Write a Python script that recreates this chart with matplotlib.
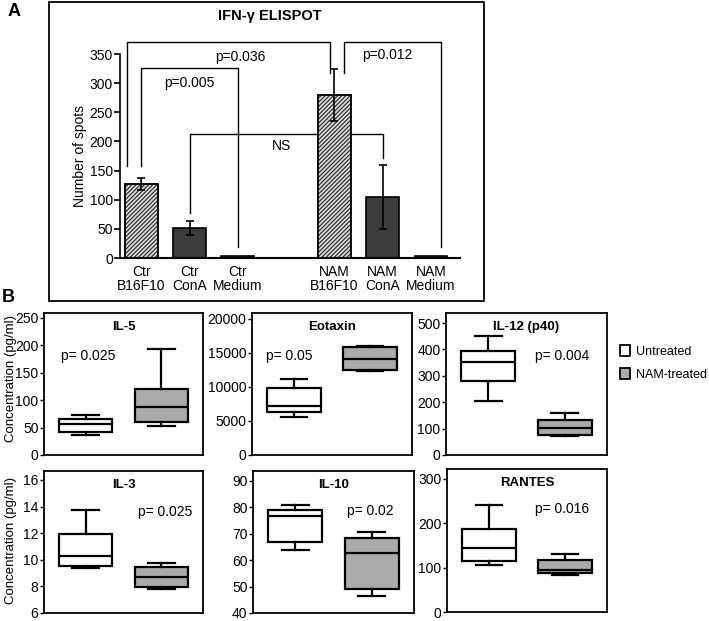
import numpy as np
import matplotlib as mpl
mpl.use('Agg')
import matplotlib.pyplot as plt
from matplotlib.patches import Rectangle, Patch

plt.rcParams['font.family'] = ['Liberation Sans', 'DejaVu Sans']
plt.rcParams['hatch.linewidth'] = 0.9

# ---- panel A data ----
a_labels = ['Ctr\nB16F10', 'Ctr\nConA', 'Ctr\nMedium', 'NAM\nB16F10', 'NAM\nConA', 'NAM\nMedium']
a_pos = [0, 1, 2, 4, 5, 6]
a_vals = [127, 52, 4, 280, 104, 4]
a_err = [10, 12, 0, 45, 55, 0]
a_hatched = [True, False, False, True, False, False]

# brackets: (x_left, y_left_bottom, x_right, y_right_bottom, y_top, label, label_x, label_y)
a_brackets = [
    (-0.3, 157, 3.9, 318, 371, 'p=0.036', 2.05, 345),
    (0.0, 157, 2.0, 19, 326, 'p=0.005', 1.0, 301),
    (4.2, 317, 6.2, 19, 371, 'p=0.012', 5.1, 349),
    (1.0, 77, 5.0, 172, 213, 'NS', 2.9, 193),
]

# ---- panel B data (whislo, q1, med, q3, whishi) ----
b_names = ['IL-5', 'Eotaxin', 'IL-12 (p40)', 'IL-3', 'IL-10', 'RANTES']
b_untreated = [
    (36.5, 42.6, 57, 66, 73.5),
    (5540, 6260, 7200, 9900, 11200),
    (206, 282, 354, 395, 451),
    (9.41, 9.56, 10.3, 11.92, 13.76),
    (64, 66.7, 76.6, 78.9, 81),
    (106, 115, 144, 186, 240),
]
b_treated = [
    (53, 61, 87.6, 120, 192.6),
    (12300, 12550, 14100, 15870, 16000),
    (71, 77, 103, 134, 159),
    (7.79, 7.99, 8.74, 9.48, 9.73),
    (46.3, 49.1, 62.8, 68.4, 70.5),
    (84, 88, 95.5, 118, 131),
]
b_pvals = ['p= 0.025', 'p= 0.05', 'p= 0.004', 'p= 0.025', 'p= 0.02', 'p= 0.016']
b_pxy = [(0.28, 0.70), (0.23, 0.70), (0.72, 0.70), (0.76, 0.71), (0.73, 0.72), (0.72, 0.72)]
b_ylim = [(0, 259), (0, 20870), (0, 538), (6, 16.67), (40, 93.7), (0, 322)]
b_yticks = [np.arange(0, 251, 50), np.arange(0, 20001, 5000), np.arange(0, 501, 100),
            np.arange(6, 17, 2), np.arange(40, 91, 10), np.arange(0, 301, 100)]
# axes boxes in pixels: left, top, right, bottom
b_rects = [(44, 313, 203, 455), (252, 313, 412, 455), (446, 313, 607, 455),
           (44, 471, 203, 613), (253, 471, 414, 613), (447, 469, 607, 612)]

W, H = 709, 621
fig = plt.figure(figsize=(W / 100, H / 100), dpi=100)


def px_axes(l, t, r, b):
    return fig.add_axes([l / W, 1 - b / H, (r - l) / W, (b - t) / H])


# ---- panel A ----
fig.patches.append(Rectangle((49 / W, 1 - 301 / H), (484 - 49) / W, (301 - 2) / H,
                             transform=fig.transFigure, fill=False, lw=1.3, ec='black'))
axA = px_axes(120, 54, 460, 258)
for x, v, e, h in zip(a_pos, a_vals, a_err, a_hatched):
    if h:
        axA.bar(x, v, width=0.68, color='#dddddd', edgecolor='#333333', hatch='////////', lw=1.2, zorder=2)
        axA.bar(x, v, width=0.68, fill=False, edgecolor='black', lw=1.2, zorder=3)
    else:
        axA.bar(x, v, width=0.68, color='#3c3c3c', edgecolor='black', lw=1.2, zorder=2)
    if e > 0:
        axA.errorbar(x, v, yerr=e, color='black', capsize=3, lw=1.2, capthick=1.2, zorder=4)

for xl, yl, xr, yr, yt, lab, lx, ly in a_brackets:
    axA.plot([xl, xl, xr, xr], [yl, yt, yt, yr], color='black', lw=1.0, clip_on=False, zorder=1)
    axA.text(lx, ly, lab, ha='center', va='center', fontsize=10)

axA.set_xlim(-0.44, 6.6)
axA.set_ylim(0, 350)
axA.set_yticks(np.arange(0, 351, 50))
axA.set_xticks(a_pos)
axA.set_xticklabels(a_labels, fontsize=10, linespacing=1.0)
axA.tick_params(axis='x', length=0, pad=5)
axA.tick_params(axis='y', length=4, width=1.2, labelsize=10, pad=1)
axA.spines['top'].set_visible(False)
axA.spines['right'].set_visible(False)
axA.spines['left'].set_linewidth(1.2)
axA.spines['bottom'].set_linewidth(1.5)
axA.set_ylabel('Number of spots', fontsize=10, labelpad=2)
fig.text(270 / W, 1 - 16 / H, 'IFN-γ ELISPOT', ha='center', va='center',
         fontsize=10.5, fontweight='bold')

# ---- panel B ----
keys = ['whislo', 'q1', 'med', 'q3', 'whishi']
for i in range(6):
    ax = px_axes(*b_rects[i])
    stats = [dict(zip(keys, b_untreated[i])), dict(zip(keys, b_treated[i]))]
    for s in stats:
        s['fliers'] = []
    bp = ax.bxp(stats, positions=[1, 2], widths=0.7, patch_artist=True, showfliers=False,
                boxprops=dict(lw=1.6, edgecolor='black'),
                medianprops=dict(color='black', lw=1.6),
                whiskerprops=dict(lw=1.6, color='black'),
                capprops=dict(lw=1.6, color='black'), capwidths=0.35)
    bp['boxes'][0].set_facecolor('white')
    bp['boxes'][1].set_facecolor('#aaaaaa')
    ax.set_xlim(0.45, 2.55)
    ax.set_ylim(*b_ylim[i])
    ax.set_yticks(b_yticks[i])
    ax.set_xticks([])
    ax.tick_params(axis='y', length=3, width=1.0, labelsize=10, pad=1)
    for sp in ax.spines.values():
        sp.set_linewidth(1.3)
    ax.text(0.5, 0.9, b_names[i], transform=ax.transAxes, ha='center', va='center',
            fontsize=9.5, fontweight='bold')
    ax.text(b_pxy[i][0], b_pxy[i][1], b_pvals[i], transform=ax.transAxes,
            ha='center', va='center', fontsize=10)

for yc in [378, 540]:
    fig.text(11 / W, 1 - yc / H, 'Concentration (pg/ml)', rotation=90,
             ha='center', va='center', fontsize=9.5)

handles = [Patch(facecolor='white', edgecolor='black', lw=1.3, label='Untreated'),
           Patch(facecolor='#aaaaaa', edgecolor='black', lw=1.3, label='NAM-treated')]
fig.legend(handles=handles, loc='center left', bbox_to_anchor=(614 / W, 1 - 363 / H),
           frameon=False, fontsize=9, handlelength=0.8, handleheight=0.9,
           handletextpad=0.45, labelspacing=0.85, borderpad=0)

fig.text(8 / W, 1 - 12 / H, 'A', fontsize=13, fontweight='bold', va='center')
fig.text(2 / W, 1 - 297 / H, 'B', fontsize=13, fontweight='bold', va='center')

fig.savefig('out.png', dpi=100)
